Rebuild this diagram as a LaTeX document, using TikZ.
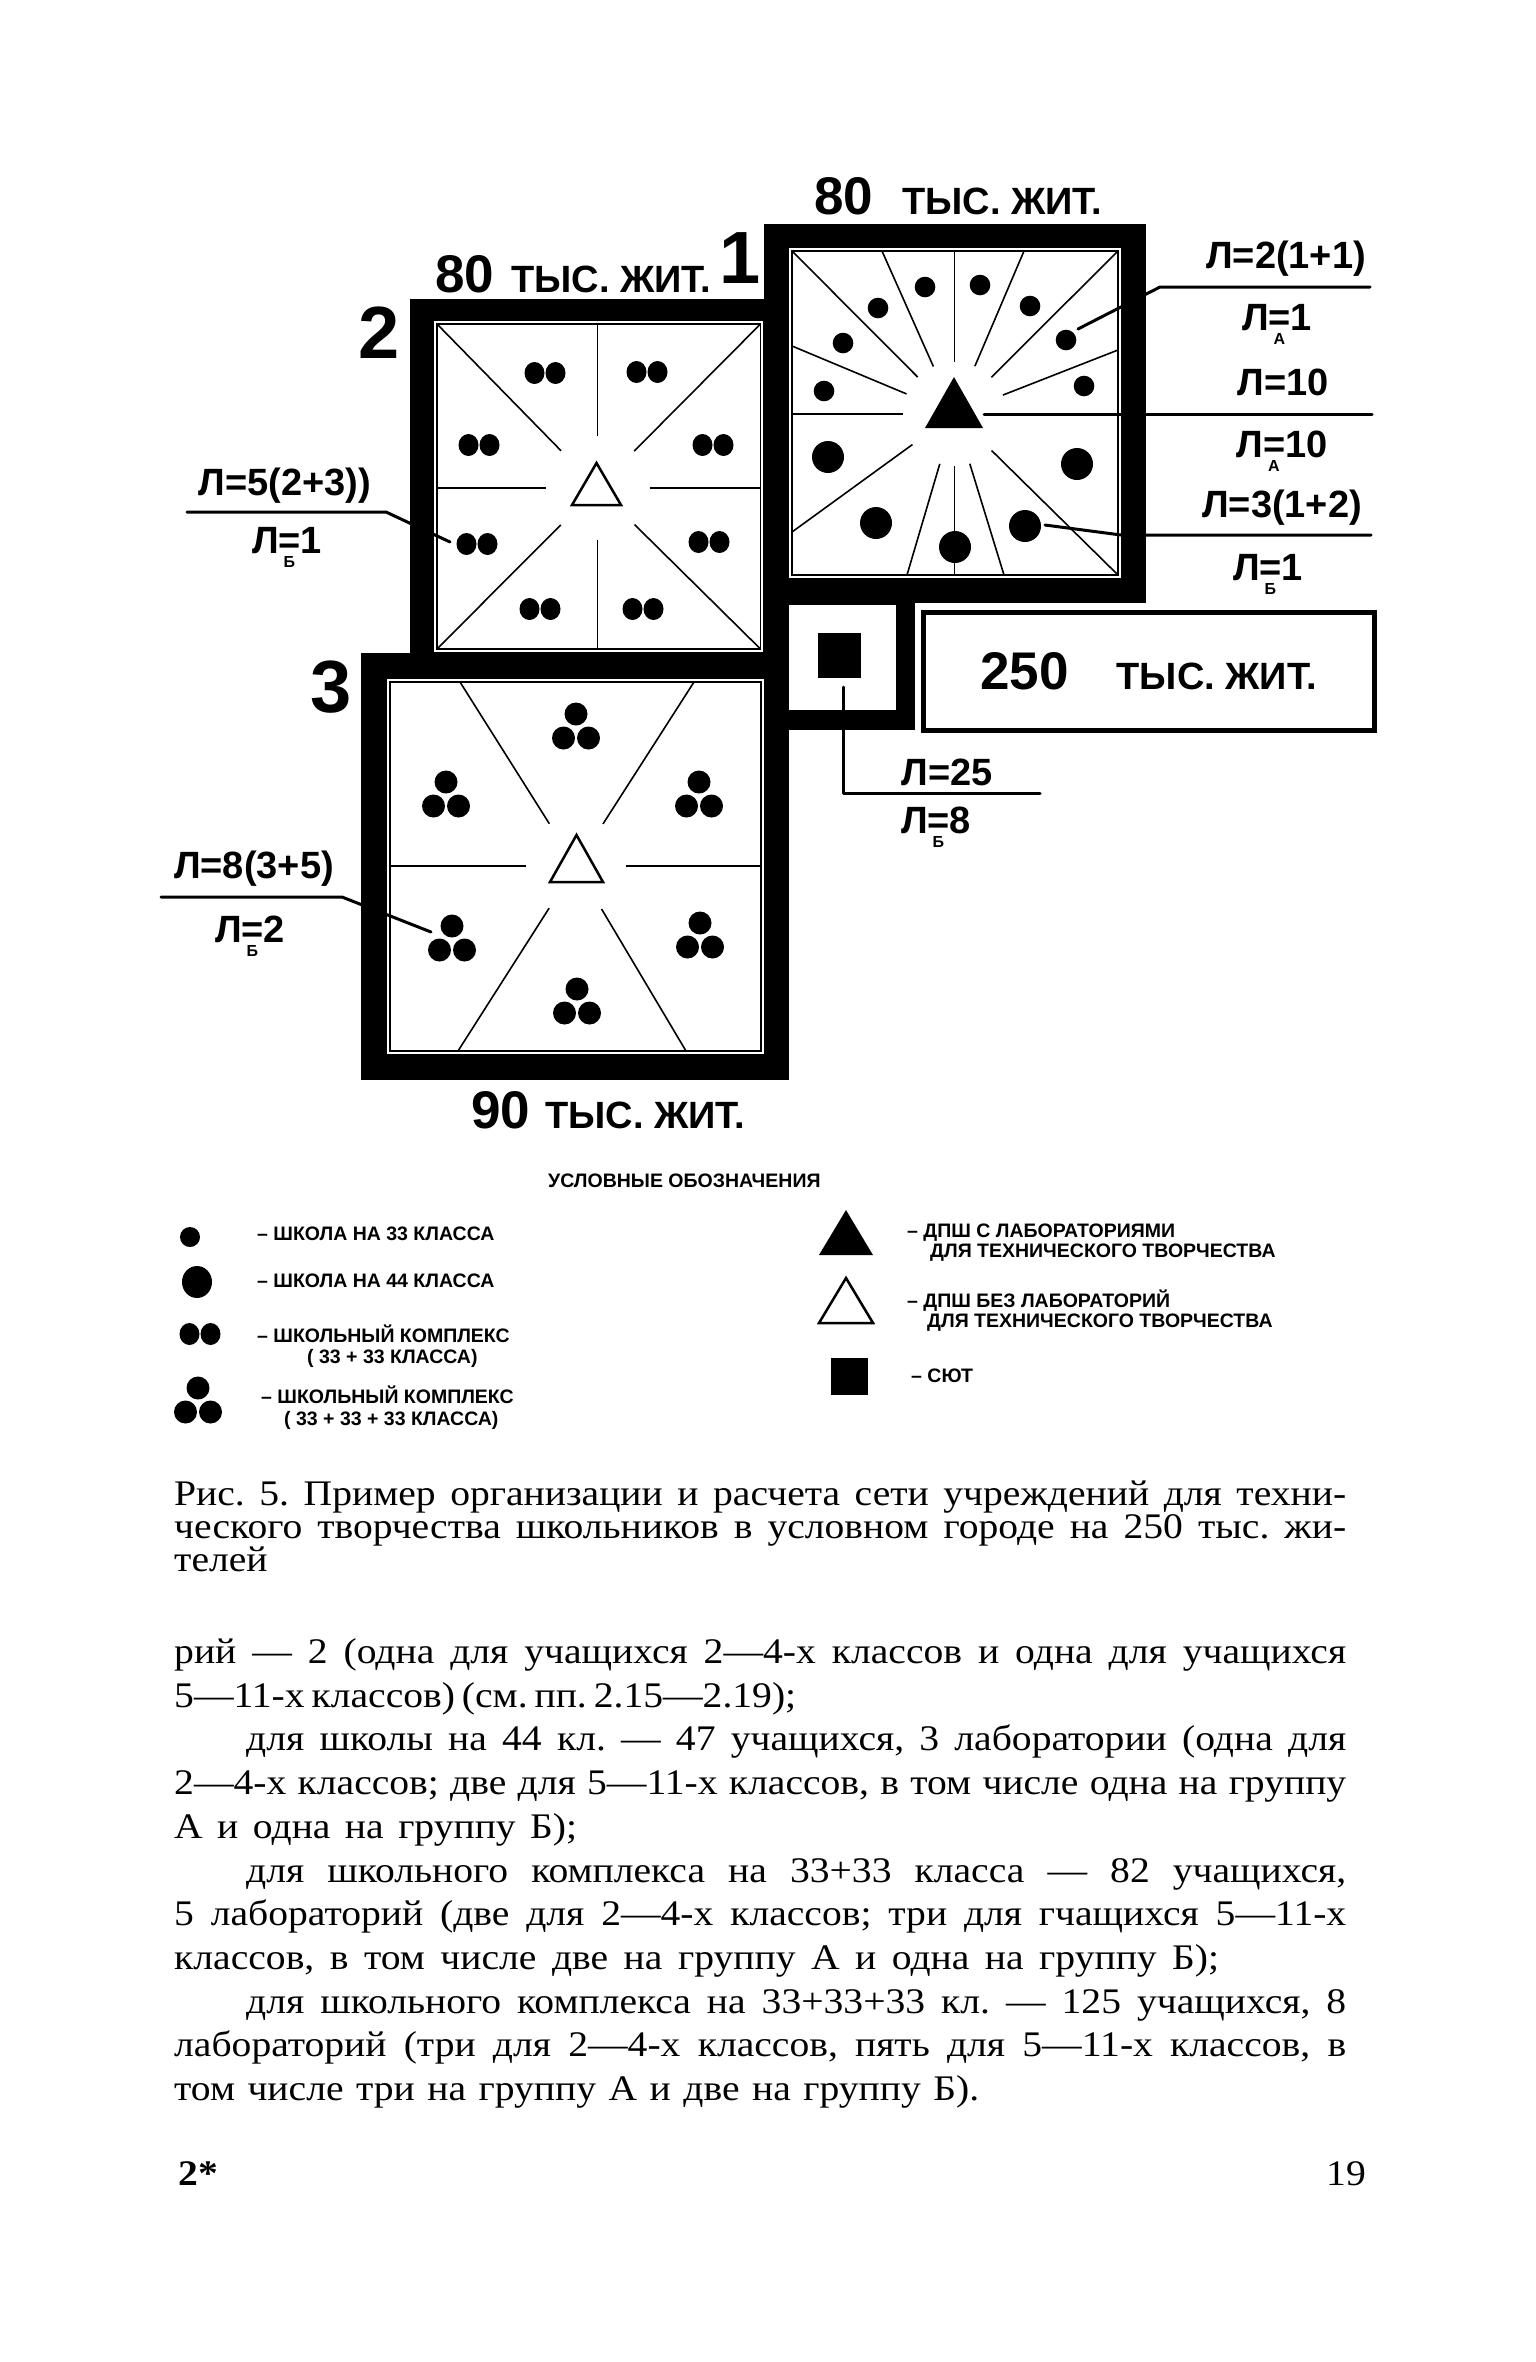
\documentclass[tikz,border=0pt]{standalone}
\usepackage{fontspec}
\setmainfont{Liberation Serif}[FakeStretch=1.1]
\setsansfont{Liberation Sans}
\usetikzlibrary{positioning, calc}
\newcommand{\numfont}{\sffamily\bfseries\fontsize{53}{53}\selectfont}
\newcommand{\tysfont}{\sffamily\bfseries\fontsize{38}{38}\selectfont}
\newcommand{\tys}[2]{{\numfont #1}\hspace{#2}{\tysfont ТЫС.\ ЖИТ.}}
\newcommand{\lsub}[1]{\rlap{\kern5pt\raisebox{-14pt}{\fontsize{16}{16}\selectfont #1}}}
\newcommand{\pairdots}[2]{\fill (#1-10.5,#2) ellipse (10pt and 11pt) (#1+10.5,#2) ellipse (10pt and 11pt);}
\newcommand{\tripledots}[2]{\fill (#1,#2-12) circle (11.5pt) (#1-12.5,#2+12) circle (11.5pt) (#1+12.5,#2+12) circle (11.5pt);}
\frenchspacing

\begin{document}
\begin{tikzpicture}[x=1pt, y=-1pt,
  wall/.style={fill=black},
  frame/.style={line width=1.4pt},
  ray/.style={line width=1.6pt},
  leader/.style={line width=3pt, line cap=round, line join=round},
  hub/.style={line width=2.5pt, line join=miter},
  lbl/.style={font=\sffamily\bfseries\fontsize{38}{38}\selectfont, inner sep=0pt, anchor=base},
  bignum/.style={font=\sffamily\bfseries\fontsize{74}{74}\selectfont, inner sep=0pt, anchor=base},
  pop/.style={inner sep=0pt, anchor=base west},
  legend/.style={font=\sffamily\bfseries\fontsize{19.5}{19.5}\selectfont, inner sep=0pt, anchor=base west},
  body/.style={font=\fontsize{36}{36}\selectfont, inner sep=0pt, anchor=base west}
]
\useasboundingbox (0,0) rectangle (1535,2362);

\fill[wall] (764,224) rectangle (1146,603);
\fill[wall] (410,299) rectangle (789,679);
\fill[wall] (361,653) rectangle (789,1080);
\fill[wall] (764,580) rectangle (915,730);
\fill[white] (789,248) rectangle (1121,578);
\fill[white] (434,321) rectangle (763,652);
\fill[white] (387,679) rectangle (764,1054);
\fill[white] (789,605) rectangle (896,710);
\draw[frame] (792,251) rectangle (1118,575);
\draw[frame] (437,324) rectangle (760.5,649);
\draw[frame] (390,682) rectangle (761,1051);

\coordinate (c1) at (954.5,414);
\coordinate (c2) at (597.5,488);
\coordinate (c3) at (576,866);

\foreach \x/\y in {792/251, 882/251, 954.5/251, 1024/251, 1118/251, 792/346, 1118/350, 792/414,
                   792/532, 907/575, 954.5/575, 1004/575, 1118/575}
  \draw[ray] ($(c1)!52pt!(\x,\y)$) -- (\x,\y);
\foreach \x/\y in {437/324, 597.5/324, 760.5/324, 437/488, 760.5/488, 437/649, 597.5/649, 760.5/649}
  \draw[ray] ($(c2)!52pt!(\x,\y)$) -- (\x,\y);
\foreach \x/\y in {460/682, 694/682, 390/866, 761/866, 458/1051, 686/1051}
  \draw[ray] ($(c3)!50pt!(\x,\y)$) -- (\x,\y);

\fill (925,428) -- (983,428) -- (954,377) -- cycle;
\draw[hub] (572,505) -- (621,505) -- (596.5,463) -- cycle;
\draw[hub] (550,882) -- (603,882) -- (576.5,835) -- cycle;

\foreach \x/\y in {925/287, 980/285, 878/308, 1030/306, 843/343, 1066/340, 824/391, 1084/386}
  \fill (\x,\y) circle (10.3pt);
\foreach \x/\y in {828/457, 876/523, 955/547, 1025/526, 1077/464}
  \fill (\x,\y) circle (16pt);
\foreach \x/\y in {545/373, 647/372, 479/445, 713/445, 477/544, 709/542, 540/609, 643/609}
  {\pairdots{\x}{\y}}
\foreach \x/\y in {576/726, 446/794, 699/794, 452/938, 700/935, 577/1001}
  {\tripledots{\x}{\y}}

\node[fill, minimum width=43pt, minimum height=45pt, inner sep=0pt] (sut) at (839.5,655.5) {};
\node[draw, line width=5pt, minimum width=451pt, minimum height=118pt, inner sep=0pt] (city) at (1148.5,671) {\tys{250}{48pt}};

\node[pop] (pop1) at (814,214) {\tys{80}{29pt}};
\node[pop] (pop2) at (435,292) {\tys{80}{17pt}};
\node[pop] (pop3) at (471,1128) {\tys{90}{15pt}};
\node[bignum] (n1) at (740,283) {1};
\node[bignum] (n2) at (379,358) {2};
\node[bignum] (n3) at (331,712) {3};

\coordinate (s2) at (450,542);
\coordinate (k2) at (386,512);
\coordinate (e2) at (187,512);
\coordinate (s1a) at (1078,329);
\coordinate (k1a) at (1160,287);
\coordinate (e1a) at (1370,287);
\coordinate (h1) at (984,414);
\coordinate (e1b) at (1372,414);
\coordinate (s1c) at (1045,525);
\coordinate (k1c) at (1121,535);
\coordinate (e1c) at (1371,535);
\coordinate (sutl) at (843,687);
\coordinate (k4) at (843,793);
\coordinate (e4) at (1040,793);
\coordinate (s3) at (431,932);
\coordinate (k3) at (342,897);
\coordinate (e3) at (161,897);
\draw[leader] (e2) -- (k2) -- (s2);
\draw[leader] (e1a) -- (k1a) -- (s1a);
\draw[leader] (h1) -- (e1b);
\draw[leader] (e1c) -- (k1c) -- (s1c);
\draw[leader] (sutl) -- (k4) -- (e4);
\draw[leader] (e3) -- (k3) -- (s3);

\node[lbl] (l2a) at (285,495) {Л=5(2+3))};
\node[lbl] (l2b) at (287,553) {Л\lsub{Б}=1};
\node[lbl] (l1a) at (1286,268) {Л=2(1+1)};
\node[lbl] (l1b) at (1277,330) {Л\lsub{А}=1};
\node[lbl] (l1c) at (1283,395) {Л=10};
\node[lbl] (l1d) at (1282,457) {Л\lsub{А}=10};
\node[lbl] (l1e) at (1282,517) {Л=3(1+2)};
\node[lbl] (l1f) at (1268,580) {Л\lsub{Б}=1};
\node[lbl] (l4a) at (947,785) {Л=25};
\node[lbl] (l4b) at (936,833) {Л\lsub{Б}=8};
\node[lbl] (l3a) at (254,878) {Л=8(3+5)};
\node[lbl] (l3b) at (250,942) {Л\lsub{Б}=2};

\node[legend] (legtitle) at (548,1187) {УСЛОВНЫЕ ОБОЗНАЧЕНИЯ};
\fill (190,1237) circle (10pt);
\fill (197,1282) ellipse (15pt and 16pt);
\pairdots{200}{1334}
\tripledots{198}{1400}
\node[legend] (leg1) at (257,1240) {– ШКОЛА НА 33 КЛАССА};
\node[legend] (leg2) at (257,1287) {– ШКОЛА НА 44 КЛАССА};
\node[legend] (leg3) at (257,1342) {– ШКОЛЬНЫЙ КОМПЛЕКС};
\node[legend] (leg3b) at (307,1363) {( 33 + 33 КЛАССА)};
\node[legend] (leg4) at (261,1403) {– ШКОЛЬНЫЙ КОМПЛЕКС};
\node[legend] (leg4b) at (284,1425) {( 33 + 33 + 33 КЛАССА)};
\fill (819,1255) -- (873,1255) -- (846,1210) -- cycle;
\draw[hub] (819,1323) -- (873,1323) -- (846,1278) -- cycle;
\fill (831,1358) rectangle (868,1395);
\node[legend] (leg5) at (907,1237) {– ДПШ С ЛАБОРАТОРИЯМИ};
\node[legend] (leg5b) at (930,1257) {ДЛЯ ТЕХНИЧЕСКОГО ТВОРЧЕСТВА};
\node[legend] (leg6) at (907,1307) {– ДПШ БЕЗ ЛАБОРАТОРИЙ};
\node[legend] (leg6b) at (927,1327) {ДЛЯ ТЕХНИЧЕСКОГО ТВОРЧЕСТВА};
\node[legend] (leg7) at (911,1382) {– СЮТ};

\node[body] (cap1) at (174,1505) {\makebox[1172pt][s]{Рис. 5. Пример организации и расчета сети учреждений для техни-}};
\node[body] (cap2) at (174,1538) {\makebox[1172pt][s]{ческого творчества школьников в условном городе на 250 тыс. жи-}};
\node[body] (cap3) at (174,1571) {телей};

\node[body] (b1) at (174,1663) {\makebox[1172pt][s]{рий — 2 (одна для учащихся 2—4-х классов и одна для учащихся}};
\node[body] (b2) at (174,1707) {\makebox[622pt][s]{5—11-х классов) (см. пп. 2.15—2.19);}};
\node[body] (b3) at (246,1750) {\makebox[1100pt][s]{для школы на 44 кл. — 47 учащихся, 3 лаборатории (одна для}};
\node[body] (b4) at (174,1794) {\makebox[1172pt][s]{2—4-х классов; две для 5—11-х классов, в том числе одна на группу}};
\node[body] (b5) at (174,1838) {\makebox[403pt][s]{А и одна на группу Б);}};
\node[body] (b6) at (246,1882) {\makebox[1100pt][s]{для школьного комплекса на 33+33 класса — 82 учащихся,}};
\node[body] (b7) at (174,1925) {\makebox[1172pt][s]{5 лабораторий (две для 2—4-х классов; три для гчащихся 5—11-х}};
\node[body] (b8) at (174,1969) {\makebox[1045pt][s]{классов, в том числе две на группу А и одна на группу Б);}};
\node[body] (b9) at (246,2013) {\makebox[1100pt][s]{для школьного комплекса на 33+33+33 кл. — 125 учащихся, 8}};
\node[body] (b10) at (174,2056) {\makebox[1172pt][s]{лабораторий (три для 2—4-х классов, пять для 5—11-х классов, в}};
\node[body] (b11) at (174,2100) {\makebox[805pt][s]{том числе три на группу А и две на группу Б).}};

\node[body, font=\bfseries\fontsize{36}{36}\selectfont] (pg2) at (178,2185) {2*};
\node[body, anchor=base east] (pg19) at (1366,2185) {19};
\end{tikzpicture}
\end{document}
